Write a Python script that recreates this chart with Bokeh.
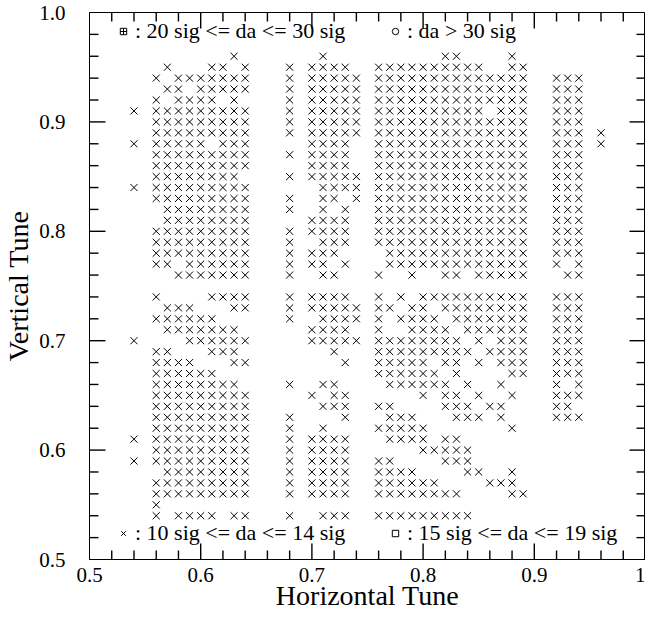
from bokeh.plotting import figure
from bokeh.models import (FixedTicker, LinearAxis, Legend, LegendItem,
                          CustomJSTickFormatter, Range1d, ColumnDataSource)
from bokeh.core.properties import value
from bokeh.embed import file_html
from bokeh.resources import INLINE
import numpy as np

# Vertical tune of each scanned row (in hundredths)
row_y = [96, 95, 94, 93, 92, 91, 90, 89, 88, 87, 86, 85, 84, 83, 82, 81, 80, 79, 78, 77, 76,
         74, 73, 72, 71, 70, 69, 68, 67, 66, 65, 64, 63, 62, 61, 60, 59, 58, 57, 56, 55, 54]

# Horizontal tunes (in hundredths) of the points with 10 sig <= da <= 14 sig, per row
row_x = [
    [63, 71, 82, 83, 88],
    [57, 61, 62, 64, 68, 70, 71, 72, 73, 76, 77, 78, 79, 80, 81, 82, 83, 84, 85, 88, 89],
    [56, 58, 59, 60, 61, 62, 63, 64, 68, 70, 71, 72, 73, 74, 76, 77, 78, 79, 80, 81, 82, 83, 84, 85, 86, 87, 88, 89, 92, 93, 94],
    [57, 58, 60, 61, 62, 63, 64, 68, 70, 71, 72, 73, 74, 76, 77, 78, 79, 80, 81, 82, 83, 84, 85, 86, 87, 88, 89, 92, 93, 94],
    [56, 58, 59, 60, 61, 63, 68, 70, 71, 72, 73, 74, 76, 77, 78, 79, 80, 81, 82, 83, 84, 85, 86, 87, 88, 89, 92, 93, 94],
    [54, 56, 57, 58, 59, 60, 61, 62, 63, 64, 68, 70, 71, 72, 73, 74, 76, 77, 78, 79, 80, 81, 82, 83, 84, 85, 87, 88, 89, 92, 93, 94],
    [56, 57, 58, 59, 60, 61, 62, 63, 64, 68, 70, 71, 72, 73, 74, 76, 77, 78, 79, 80, 81, 82, 83, 84, 85, 86, 87, 88, 89, 92, 93, 94],
    [56, 57, 58, 59, 60, 61, 62, 63, 64, 68, 70, 71, 72, 73, 74, 76, 77, 78, 79, 80, 81, 82, 83, 84, 85, 86, 87, 88, 89, 92, 93, 94, 96],
    [54, 56, 57, 58, 59, 60, 62, 63, 64, 70, 71, 72, 73, 76, 77, 78, 79, 80, 81, 82, 83, 84, 85, 86, 87, 88, 89, 92, 93, 94, 96],
    [56, 57, 58, 59, 60, 61, 62, 63, 64, 68, 70, 71, 72, 73, 76, 77, 78, 79, 80, 81, 82, 83, 84, 85, 86, 87, 88, 89, 92, 93, 94],
    [56, 57, 58, 59, 60, 61, 62, 63, 64, 70, 71, 72, 73, 76, 77, 78, 79, 80, 81, 82, 83, 84, 85, 86, 87, 88, 89, 92, 93, 94],
    [56, 57, 58, 59, 60, 61, 62, 63, 68, 70, 71, 72, 73, 74, 76, 77, 78, 79, 80, 81, 82, 83, 84, 85, 86, 87, 88, 89, 92, 93, 94],
    [54, 56, 57, 58, 59, 60, 61, 62, 63, 64, 71, 72, 73, 74, 76, 77, 78, 79, 80, 81, 82, 83, 84, 85, 86, 87, 88, 89, 92, 93, 94],
    [56, 57, 58, 59, 60, 61, 62, 63, 64, 68, 71, 72, 74, 76, 77, 78, 79, 80, 81, 82, 83, 84, 85, 86, 87, 88, 89, 92, 93, 94],
    [57, 58, 59, 60, 61, 62, 63, 64, 68, 71, 73, 76, 77, 78, 79, 80, 81, 82, 83, 84, 85, 86, 87, 88, 89, 92, 93, 94],
    [57, 58, 59, 60, 61, 62, 63, 64, 70, 71, 72, 73, 76, 77, 78, 79, 80, 81, 82, 83, 84, 85, 86, 87, 88, 89, 92, 93, 94],
    [56, 57, 58, 59, 60, 61, 62, 63, 64, 68, 70, 71, 72, 73, 76, 77, 78, 79, 80, 81, 82, 83, 84, 85, 86, 87, 88, 89, 92, 93, 94],
    [56, 57, 58, 59, 60, 61, 62, 63, 64, 68, 71, 72, 73, 76, 77, 78, 79, 80, 81, 82, 83, 84, 85, 86, 87, 88, 89, 92, 93, 94],
    [56, 57, 58, 59, 60, 61, 62, 63, 64, 68, 70, 71, 72, 77, 78, 79, 80, 81, 82, 83, 84, 85, 86, 87, 88, 89, 92, 93, 94],
    [56, 57, 59, 60, 61, 62, 63, 64, 68, 70, 71, 73, 77, 78, 79, 80, 81, 82, 83, 84, 85, 86, 87, 88, 89, 92, 94],
    [58, 59, 60, 61, 62, 63, 64, 68, 71, 72, 76, 79, 82, 83, 85, 86, 87, 88, 89, 93, 94],
    [56, 61, 62, 63, 64, 68, 70, 71, 72, 73, 76, 78, 80, 81, 82, 83, 84, 85, 86, 87, 88, 89, 92, 93, 94],
    [57, 58, 59, 63, 64, 68, 70, 71, 72, 73, 74, 76, 77, 79, 80, 82, 83, 84, 85, 86, 87, 88, 89, 92, 93, 94],
    [56, 57, 58, 59, 60, 61, 68, 71, 72, 73, 74, 76, 78, 79, 80, 81, 83, 84, 85, 86, 87, 88, 89, 92, 93, 94],
    [57, 58, 59, 60, 61, 62, 63, 70, 71, 72, 73, 76, 79, 80, 81, 82, 84, 85, 86, 87, 88, 89, 92, 93, 94],
    [54, 59, 60, 61, 62, 63, 64, 70, 71, 72, 73, 74, 76, 77, 78, 79, 80, 81, 82, 83, 85, 87, 88, 89, 92, 93, 94],
    [56, 57, 61, 62, 63, 72, 76, 77, 78, 79, 80, 81, 82, 83, 84, 86, 87, 88, 89, 92, 93, 94],
    [56, 57, 58, 59, 63, 64, 73, 76, 77, 78, 79, 80, 82, 83, 85, 87, 88, 89, 92, 93, 94],
    [56, 57, 58, 59, 60, 61, 76, 77, 78, 79, 80, 81, 83, 88, 89, 92, 93, 94],
    [56, 57, 58, 59, 60, 61, 62, 63, 68, 71, 72, 77, 78, 79, 80, 81, 82, 84, 87, 92, 94],
    [56, 57, 58, 59, 60, 61, 62, 63, 64, 70, 72, 73, 80, 82, 83, 85, 88, 92, 93, 94],
    [56, 57, 58, 59, 60, 61, 62, 63, 64, 71, 72, 73, 76, 77, 82, 83, 84, 86, 87, 92, 93],
    [56, 57, 58, 59, 60, 61, 62, 63, 64, 68, 73, 77, 78, 79, 83, 84, 85, 87, 92, 93, 94],
    [56, 57, 58, 59, 60, 61, 62, 63, 64, 68, 71, 76, 77, 78, 79, 80, 88],
    [54, 56, 57, 58, 59, 60, 61, 62, 63, 64, 68, 70, 71, 72, 73, 77, 78, 79, 80, 82, 83],
    [56, 57, 58, 59, 60, 61, 62, 63, 64, 68, 70, 71, 72, 73, 80, 81, 82, 83, 84],
    [54, 56, 57, 58, 59, 60, 61, 62, 63, 64, 68, 70, 71, 72, 73, 76, 77, 82, 83, 84],
    [57, 58, 59, 60, 61, 62, 63, 64, 68, 70, 71, 72, 73, 76, 77, 78, 79, 84, 85, 88],
    [56, 57, 58, 59, 60, 61, 62, 63, 64, 68, 70, 71, 72, 73, 76, 77, 78, 79, 80, 81, 86, 87, 88],
    [56, 57, 58, 59, 60, 61, 62, 63, 64, 68, 70, 71, 72, 73, 76, 77, 78, 79, 80, 81, 82, 83, 88, 89],
    [56],
    [56, 58, 59, 60, 61, 63, 64, 68, 71, 72, 73, 76, 77, 78, 79, 80, 81, 82, 83, 84],
]

x_ticks = [0.5, 0.6, 0.7, 0.8, 0.9, 1.0]
y_ticks = [0.5, 0.6, 0.7, 0.8, 0.9, 1.0]

legend_labels = [": 20 sig <= da <= 30 sig", ": da > 30 sig",
                 ": 10 sig <= da <= 14 sig", ": 15 sig <= da <= 19 sig"]

xs, ys = [], []
for yv, row in zip(row_y, row_x):
    for xv in row:
        xs.append(xv / 100.0)
        ys.append(yv / 100.0)
src = ColumnDataSource(dict(x=xs, y=ys))

FONT = "Liberation Serif"
X0, X1 = 0.5, 1.0
Y0, Y1 = 0.5, 1.0
FW, FH = 556, 547

p = figure(frame_width=FW, frame_height=FH, output_backend="svg", toolbar_location=None,
           x_range=Range1d(X0, X1), y_range=Range1d(Y0, Y1),
           x_axis_type=None, y_axis_type=None,
           min_border_left=86, min_border_right=0, min_border_top=12, min_border_bottom=58)
p.xgrid.visible = False
p.ygrid.visible = False
p.outline_line_color = "black"
p.outline_line_width = 1
p.background_fill_color = "white"
p.border_fill_color = "white"

minor = [round(v, 2) for v in np.arange(0.5, 1.0001, 0.02)]
fmt = CustomJSTickFormatter(code="var s = tick.toFixed(1); return s === '1.0' ? '1' : s;")
yfmt = CustomJSTickFormatter(code="return tick.toFixed(1);")


def style_axis(ax):
    ax.major_tick_in = 0
    ax.major_tick_out = 0
    ax.minor_tick_in = 0
    ax.minor_tick_out = 0
    ax.axis_line_color = "black"
    ax.major_label_text_font = FONT
    ax.major_label_text_font_size = "21px"
    ax.major_label_text_color = "black"
    ax.axis_label_text_font = FONT
    ax.axis_label_text_font_size = "28px"
    ax.axis_label_text_font_style = "normal"
    ax.axis_label_text_color = "black"


xb = LinearAxis(ticker=FixedTicker(ticks=x_ticks, minor_ticks=minor), formatter=fmt,
                axis_label="Horizontal Tune")
style_axis(xb)
xb.major_label_standoff = 8
xb.axis_label_standoff = -5
p.add_layout(xb, "below")

yl = LinearAxis(ticker=FixedTicker(ticks=y_ticks, minor_ticks=minor), formatter=yfmt,
                axis_label="Vertical Tune")
style_axis(yl)
yl.major_label_standoff = 24
yl.axis_label_standoff = 2
p.add_layout(yl, "left")

# inward tick marks on the four frame edges: thin filled bars whose centres lie
# inside the frame, drawn on the overlay level so nothing paints over them
x_major_in = [t for t in x_ticks if X0 < t < X1]
y_major_in = [t for t in y_ticks if Y0 < t < Y1]
x_minor_in = [t for t in minor if X0 < t < X1 and t not in x_ticks]
y_minor_in = [t for t in minor if Y0 < t < Y1 and t not in y_ticks]
px_per_x = FW / (X1 - X0)
px_per_y = FH / (Y1 - Y0)
TW = 1.4
for pos, length in ((x_major_in, 16), (x_minor_in, 9)):
    n = len(pos)
    half = 0.5 * length / px_per_y
    for cy in (Y0 + half, Y1 - half):
        p.rect(x=pos, y=[cy] * n, width=TW, height=length, width_units="screen",
               height_units="screen", fill_color="black", line_color=None, level="overlay")
for pos, length in ((y_major_in, 16), (y_minor_in, 9)):
    n = len(pos)
    half = 0.5 * length / px_per_x
    for cx in (X0 + half, X1 - half):
        p.rect(x=[cx] * n, y=pos, width=length, height=TW, width_units="screen",
               height_units="screen", fill_color="black", line_color=None, level="overlay")

pts = p.scatter("x", "y", source=src, marker="x", size=10, line_color="black", line_width=1)

nan = [float("nan")]
r_sqc = p.scatter(x=nan, y=nan, marker="square_cross", size=6, line_color="black", fill_color=None)
r_circ = p.scatter(x=nan, y=nan, marker="circle", size=6, line_color="black", fill_color=None)
r_sq = p.scatter(x=nan, y=nan, marker="square", size=6, line_color="black", fill_color=None)


def add_legend(label, rend, loc):
    lg = Legend(items=[LegendItem(label=value(label), renderers=[rend])], location=loc,
                border_line_color=None, background_fill_alpha=0, padding=0, margin=0,
                spacing=0, glyph_width=16, glyph_height=16, label_height=16,
                label_standoff=4, label_text_font=FONT, label_text_font_size="22px",
                label_text_color="black")
    p.add_layout(lg)


add_legend(legend_labels[0], r_sqc, (26, 515))
add_legend(legend_labels[1], r_circ, (298, 515))
add_legend(legend_labels[2], pts, (26, 13))
add_legend(legend_labels[3], r_sq, (298, 13))

open("out.html", "w").write(file_html(p, INLINE))
